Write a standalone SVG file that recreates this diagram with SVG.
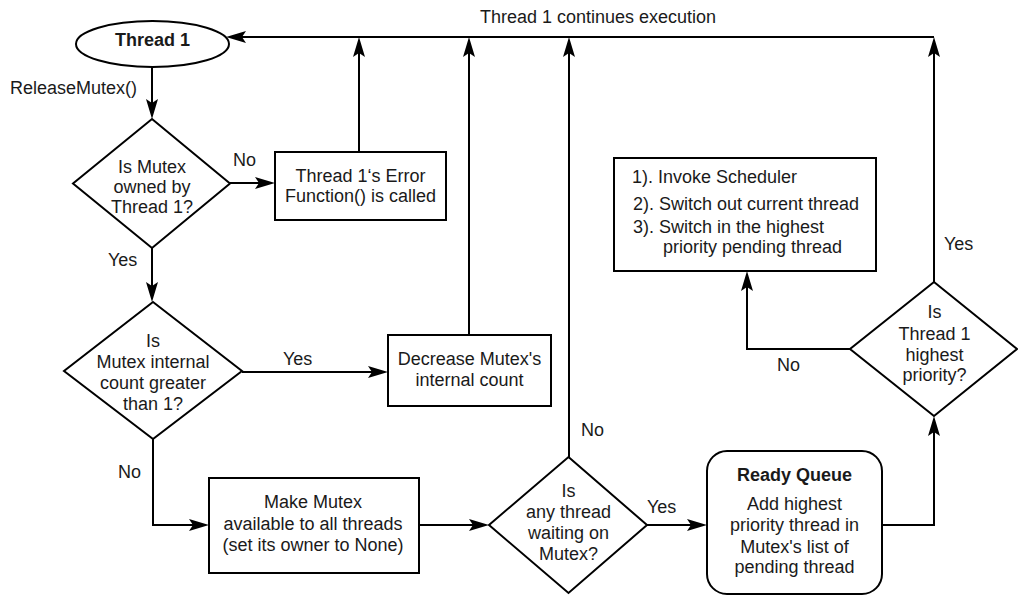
<svg xmlns="http://www.w3.org/2000/svg" width="1018" height="597" viewBox="0 0 1018 597">
<style>
.s{fill:#fff;stroke:#000;stroke-width:2}
.c{fill:none;stroke:#000;stroke-width:2}
text{font-family:"Liberation Sans",Arial,sans-serif;font-size:18px;fill:#1a1a1a}
.m{text-anchor:middle}
.b{font-weight:bold}
</style>
<defs>
<marker id="a" viewBox="0 0 20 12" refX="15" refY="6" markerWidth="20" markerHeight="12" markerUnits="userSpaceOnUse" orient="auto">
<path d="M0,0 L20,6 L0,12 L4,6 Z" fill="#000"/>
</marker>
</defs>
<g id="connectors">
<path class="c" d="M934,37 L231,37" marker-end="url(#a)"/>
<path class="c" d="M152,67 L152,114" marker-end="url(#a)"/>
<path class="c" d="M230,183 L270,183" marker-end="url(#a)"/>
<path class="c" d="M359,152 L359,42" marker-end="url(#a)"/>
<path class="c" d="M152,248 L152,297" marker-end="url(#a)"/>
<path class="c" d="M242,372 L383,372" marker-end="url(#a)"/>
<path class="c" d="M469,335 L469,42" marker-end="url(#a)"/>
<path class="c" d="M153,439 L153,525 L204,525" marker-end="url(#a)"/>
<path class="c" d="M419,525 L484,525" marker-end="url(#a)"/>
<path class="c" d="M569,457 L569,42" marker-end="url(#a)"/>
<path class="c" d="M647,525 L702,525" marker-end="url(#a)"/>
<path class="c" d="M882,525 L934,525 L934,421" marker-end="url(#a)"/>
<path class="c" d="M934,282 L934,42" marker-end="url(#a)"/>
<path class="c" d="M850,349 L747,349 L747,276" marker-end="url(#a)"/>
<text x="598" y="23" class="m">Thread 1 continues execution</text>
<text x="10" y="94">ReleaseMutex()</text>
<text x="233" y="166">No</text>
<text x="108" y="266">Yes</text>
<text x="283" y="365">Yes</text>
<text x="118" y="478">No</text>
<text x="581" y="436">No</text>
<text x="647" y="513">Yes</text>
<text x="944" y="250">Yes</text>
<text x="777" y="371">No</text>
</g>
<g id="thread1">
<ellipse class="s" cx="152.5" cy="44" rx="76.5" ry="23"/>
<text x="152.5" y="46" class="m b">Thread 1</text>
</g>
<g id="owned">
<path class="s" d="M152,119 L230,183.5 L152,248 L73,183.5 Z"/>
<text x="152" y="173" class="m">Is Mutex</text>
<text x="152" y="193" class="m">owned by</text>
<text x="152" y="213" class="m">Thread 1?</text>
</g>
<g id="error">
<rect class="s" x="275" y="152" width="171" height="68"/>
<text x="360.5" y="182" class="m">Thread 1‘s Error</text>
<text x="360.5" y="202" class="m">Function() is called</text>
</g>
<g id="count">
<path class="s" d="M153,302 L242,371 L153,439 L64,371 Z"/>
<text x="153" y="347" class="m">Is</text>
<text x="153" y="368" class="m">Mutex internal</text>
<text x="153" y="389" class="m">count greater</text>
<text x="153" y="410" class="m">than 1?</text>
</g>
<g id="decrease">
<rect class="s" x="388" y="335" width="163" height="71"/>
<text x="469.5" y="365" class="m">Decrease Mutex's</text>
<text x="469.5" y="386" class="m">internal count</text>
</g>
<g id="make">
<rect class="s" x="209" y="478" width="210" height="95"/>
<text x="313" y="508" class="m">Make Mutex</text>
<text x="313" y="530" class="m">available to all threads</text>
<text x="313" y="551" class="m">(set its owner to None)</text>
</g>
<g id="waiting">
<path class="s" d="M568.5,457 L647,525 L568.5,593 L489,525 Z"/>
<text x="568.5" y="497" class="m">Is</text>
<text x="568.5" y="518" class="m">any thread</text>
<text x="568.5" y="539" class="m">waiting on</text>
<text x="568.5" y="560" class="m">Mutex?</text>
</g>
<g id="ready">
<rect class="s" x="707" y="451" width="175" height="143" rx="20"/>
<text x="794.5" y="481" class="m b">Ready Queue</text>
<text x="794.5" y="510" class="m">Add highest</text>
<text x="794.5" y="531" class="m">priority thread in</text>
<text x="794.5" y="553" class="m">Mutex's list of</text>
<text x="794.5" y="573" class="m">pending thread</text>
</g>
<g id="highest">
<path class="s" d="M934,282 L1017,349 L934,416 L850,349 Z"/>
<text x="934.5" y="318" class="m">Is</text>
<text x="934.5" y="340" class="m">Thread 1</text>
<text x="934.5" y="361" class="m">highest</text>
<text x="934.5" y="381" class="m">priority?</text>
</g>
<g id="scheduler">
<rect class="s" x="614" y="158" width="262" height="113"/>
<text x="632" y="183">1). Invoke Scheduler</text>
<text x="633" y="210">2). Switch out current thread</text>
<text x="633" y="233">3). Switch in the highest</text>
<text x="663" y="253">priority pending thread</text>
</g>
</svg>
